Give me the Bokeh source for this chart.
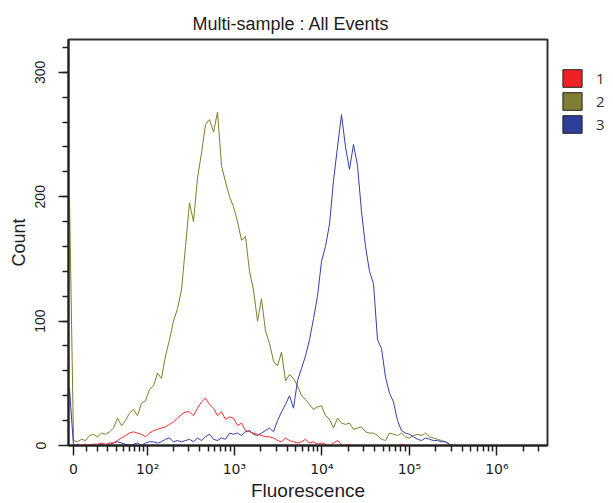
import numpy as np
from bokeh.plotting import figure
from bokeh.layouts import row
from bokeh.models import (Range1d, FixedTicker, CustomJSTickFormatter, Legend,
                          LegendItem, ColumnDataSource)
from bokeh.embed import file_html
from bokeh.resources import INLINE

# ---- data -------------------------------------------------------------
# histogram channels in display units (decades of an arcsinh / logicle scale)
N_CHANNELS = 98
CHANNEL_STEP = 0.045714
ASINH_COFACTOR = 14.5

count_1 = [0, 0, 1, 0, 1, 0, 1, 1, 2, 1,
           2, 2, 4, 6, 8, 10, 11, 10, 9, 7,
           10, 12, 13, 14, 15, 17, 19, 22, 25, 27,
           27, 24, 30, 35, 38, 33, 30, 24, 27, 21,
           23, 22, 16, 18, 12, 11, 10, 9, 8, 7,
           7, 6, 4, 3, 6, 4, 3, 2, 3, 5,
           2, 3, 1, 2, 1, 0, 2, 4, 1, 0,
           1, 0, 0, 0, 0, 0, 0, 0, 0, 0,
           0, 0, 0, 1, 0, 0, 0, 0, 0, 0,
           0, 0, 0, 0, 0, 0, 0, 0]

count_2 = [199, 4, 3, 5, 4, 8, 9, 7, 10, 9,
           11, 14, 22, 16, 20, 26, 29, 24, 34, 36,
           45, 48, 58, 54, 72, 85, 100, 110, 125, 160,
           195, 180, 215, 235, 258, 262, 252, 268, 225, 212,
           200, 192, 180, 165, 168, 140, 125, 100, 118, 92,
           82, 68, 64, 75, 52, 57, 54, 48, 40, 37,
           33, 29, 31, 32, 24, 21, 14, 22, 18, 17,
           18, 13, 14, 15, 11, 10, 10, 8, 5, 4,
           10, 9, 8, 10, 7, 6, 8, 9, 8, 10,
           7, 6, 5, 4, 3, 1, 0, 0]

count_3 = [46, 0, 0, 0, 0, 0, 1, 0, 1, 0,
           1, 2, 3, 2, 1, 0, 1, 2, 0, 2,
           3, 3, 2, 3, 5, 6, 3, 4, 3, 4,
           5, 3, 6, 4, 7, 9, 5, 4, 6, 5,
           10, 9, 10, 8, 11, 12, 9, 8, 10, 12,
           14, 11, 20, 27, 33, 40, 30, 52, 62, 72,
           85, 102, 120, 148, 160, 178, 213, 240, 266, 240,
           222, 242, 225, 188, 160, 140, 130, 85, 78, 55,
           42, 35, 20, 12, 10, 9, 7, 5, 4, 6,
           5, 4, 4, 3, 3, 1, 0, 0]

series_names = ["1", "2", "3"]
line_colors = ["#ff2a2a", "#7d7d2d", "#3040a8"]
legend_fills = ["#ee2222", "#7f7f33", "#2e3f99"]

x_major_values = [0, 1e2, 1e3, 1e4, 1e5, 1e6]
x_major_labels = ["0", "10\u00b2", "10\u00b3", "10\u2074", "10\u2075", "10\u2076"]
x_minor_values = ([m * 10 for m in range(1, 10)] +
                  [m * 10 ** e for e in range(2, 7) for m in range(2, 10)
                   if m * 10 ** e < 3.5e6])
y_major = [0, 100, 200, 300]
y_minor = list(range(20, 330, 20))


def disp(v):
    return np.arcsinh(np.asarray(v, dtype=float) / (2 * ASINH_COFACTOR)) / np.log(10)


channels = (np.arange(N_CHANNELS) - 1) * CHANNEL_STEP

# ---- main figure ------------------------------------------------------
FONT = "Liberation Sans"
TXT = "#1e1e1e"

p = figure(width=560, height=503, output_backend="svg", toolbar_location=None,
           x_range=Range1d(-0.0571, 5.417), y_range=Range1d(0, 326.4),
           min_border_left=68, min_border_right=13, min_border_top=39,
           min_border_bottom=57, title="Multi-sample : All Events")
p.background_fill_color = "white"
p.border_fill_color = "white"
p.outline_line_color = "#333333"
p.outline_line_width = 2
p.grid.visible = False

p.title.text_font = FONT
p.title.text_font_size = "18px"
p.title.text_font_style = "normal"
p.title.text_color = TXT
p.title.align = "left"
p.title.offset = 124
p.title.standoff = 11

src = ColumnDataSource(dict(x=channels, c1=count_1, c2=count_2, c3=count_3))
for col, color in [("c2", line_colors[1]), ("c3", line_colors[2]), ("c1", line_colors[0])]:
    p.line(x="x", y=col, source=src, line_color=color, line_width=1)

# x axis (logicle-like)
xmaj = [float(v) for v in disp(x_major_values)]
xmin = [float(v) for v in disp(x_minor_values)]
xa = p.xaxis[0]
xa.ticker = FixedTicker(ticks=xmaj, minor_ticks=xmin)
xa.formatter = CustomJSTickFormatter(args=dict(pos=xmaj, lab=x_major_labels), code="""
const i = pos.findIndex(v => Math.abs(v - tick) < 1e-6);
return i >= 0 ? lab[i] : "";
""")
xa.major_tick_out = 10
xa.major_tick_in = 0
xa.minor_tick_out = 6
xa.minor_tick_in = 0
xa.major_label_text_font = "DejaVu Sans"
xa.major_label_text_font_size = "14px"
xa.major_label_text_color = TXT
xa.major_label_standoff = 5
xa.axis_label = "Fluorescence"
xa.axis_label_text_font = FONT
xa.axis_label_text_font_size = "19px"
xa.axis_label_text_font_style = "normal"
xa.axis_label_text_color = TXT
xa.axis_label_standoff = 0
xa.axis_line_color = "#222222"
xa.axis_line_width = 2
xa.major_tick_line_color = "#222222"
xa.minor_tick_line_color = "#222222"
xa.major_tick_line_width = 1.5
xa.minor_tick_line_width = 1.5

ya = p.yaxis[0]
ya.ticker = FixedTicker(ticks=y_major, minor_ticks=y_minor)
ya.major_tick_out = 10
ya.major_tick_in = 0
ya.minor_tick_out = 6
ya.minor_tick_in = 0
ya.major_label_orientation = "vertical"
ya.major_label_text_font = FONT
ya.major_label_text_font_size = "14px"
ya.major_label_text_color = TXT
ya.major_label_standoff = 13
ya.axis_label = "Count"
ya.axis_label_text_font = FONT
ya.axis_label_text_font_size = "18px"
ya.axis_label_text_font_style = "normal"
ya.axis_label_text_color = TXT
ya.axis_label_standoff = 4
ya.axis_line_color = "#222222"
ya.axis_line_width = 2
ya.major_tick_line_color = "#222222"
ya.minor_tick_line_color = "#222222"
ya.major_tick_line_width = 1.5
ya.minor_tick_line_width = 1.5

# ---- legend panel (small figure to the right of the plot) -------------
pl = figure(width=53, height=503, output_backend="svg", toolbar_location=None,
            x_range=Range1d(0, 1), y_range=Range1d(0, 1),
            x_axis_type=None, y_axis_type=None,
            min_border_left=0, min_border_right=0, min_border_top=0,
            min_border_bottom=0)
pl.outline_line_color = None
pl.grid.visible = False
pl.background_fill_color = "white"
pl.border_fill_color = "white"

items = []
for name, fill in zip(series_names, legend_fills):
    swatch = ColumnDataSource(dict(l=[np.nan], r=[np.nan], t=[np.nan], b=[np.nan]))
    rq = pl.quad(left="l", right="r", top="t", bottom="b", source=swatch,
                 fill_color=fill, line_color="#222222", line_width=1)
    items.append(LegendItem(label=name, renderers=[rq]))
legend = Legend(items=items, location=(0, 310), glyph_width=24, glyph_height=22,
                label_height=22, spacing=1, padding=0, margin=0, label_standoff=12,
                label_text_font="Open Sans", label_text_font_size="15px",
                label_text_color="#333333", border_line_color=None,
                background_fill_alpha=0)
pl.add_layout(legend, "center")

layout = row(p, pl, spacing=0)
open("out.html", "w").write(file_html(layout, INLINE))
